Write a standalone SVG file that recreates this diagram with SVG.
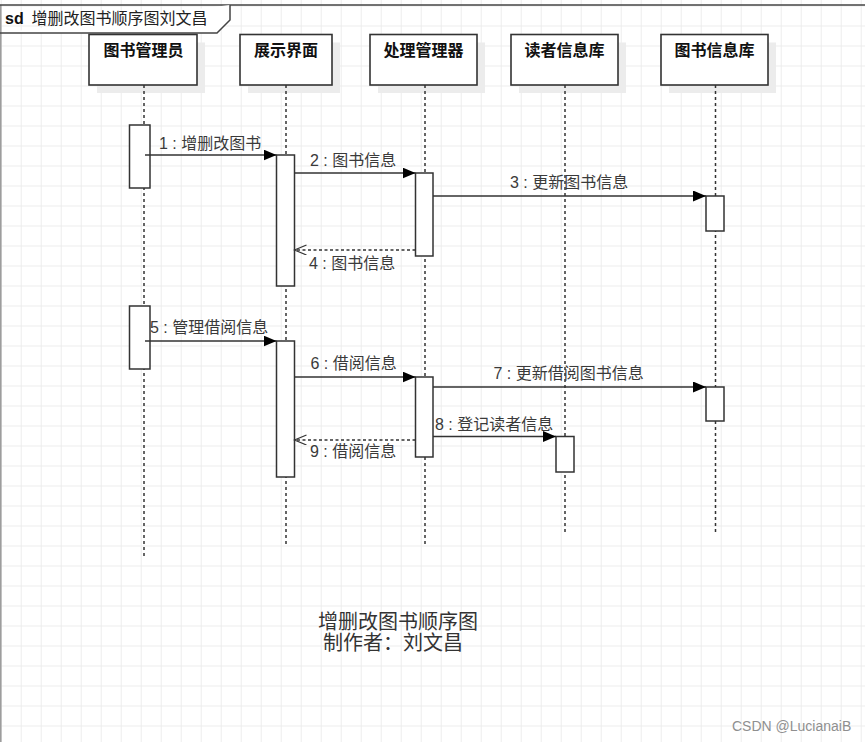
<svg xmlns="http://www.w3.org/2000/svg" width="865" height="742" viewBox="0 0 865 742">
<defs>
<pattern id="grid" patternUnits="userSpaceOnUse" x="0.7" y="5.5" width="20" height="20">
<path d="M0,0 H20 M0,0 V20" fill="none" stroke="#e9e9e9" stroke-width="1.6"/>
</pattern>
<marker id="fill" markerUnits="userSpaceOnUse" markerWidth="14" markerHeight="12" refX="13" refY="5.5" orient="auto">
<path d="M0,0 L13,5.5 L0,11 z" fill="#000"/>
</marker>
<marker id="open" markerUnits="userSpaceOnUse" markerWidth="14" markerHeight="12" refX="12" refY="5" orient="auto">
<path d="M0,0 L12,5 L0,10" fill="none" stroke="#333" stroke-width="1.2"/>
</marker>
</defs>
<style>
.head{fill:#fff;stroke:#333;stroke-width:1.6}
.shadow{fill:#ececec}
.name{font-family:"Liberation Sans","Noto Sans CJK SC",sans-serif;font-size:16px;font-weight:bold;fill:#111;text-anchor:middle}
.life{stroke:#333;stroke-width:1.5;stroke-dasharray:3 3;fill:none}
.act{fill:#fff;stroke:#333;stroke-width:1.5}
.msg{stroke:#333;stroke-width:1.4;fill:none;marker-end:url(#fill)}
.ret{stroke:#333;stroke-width:1.4;fill:none;stroke-dasharray:3 2.5;marker-end:url(#open)}
.lbl{font-family:"Liberation Sans","Noto Sans CJK SC",sans-serif;font-size:16px;fill:#3a3a3a}
.foot{font-family:"Liberation Sans","Noto Sans CJK SC",sans-serif;font-size:20px;fill:#333}
</style>
<rect x="0" y="0" width="865" height="742" fill="#fff"/>
<rect x="0" y="0" width="865" height="742" fill="url(#grid)"/>
<g id="frame">
<line x1="0.8" y1="5" x2="0.8" y2="742" stroke="#999" stroke-width="1.5"/>
<line x1="0" y1="5" x2="865" y2="5" stroke="#444" stroke-width="1.5"/>
<path d="M0,33 H217 L230,20 V5" fill="#fff" stroke="#444" stroke-width="1.5"/>
<text x="5" y="24" font-family="Liberation Sans,sans-serif" font-size="16" font-weight="bold" fill="#111">sd</text>
<text x="31.5" y="24" font-family="Liberation Sans,Noto Sans CJK SC,sans-serif" font-size="16" fill="#222">增删改图书顺序图刘文昌</text>
</g>
<g id="librarian">
<rect class="shadow" x="97" y="42.5" width="108" height="50.5"/>
<rect class="head" x="89" y="34.5" width="108" height="50.5"/>
<text class="name" x="143.5" y="56">图书管理员</text>
<line class="life" x1="144" y1="85" x2="144" y2="557"/>
<rect class="act" x="129.5" y="125" width="20.5" height="63"/>
<rect class="act" x="129.5" y="306" width="20.5" height="63"/>
</g>
<g id="ui">
<rect class="shadow" x="248" y="42.5" width="92" height="50.5"/>
<rect class="head" x="240" y="34.5" width="92" height="50.5"/>
<text class="name" x="286" y="56">展示界面</text>
<line class="life" x1="286" y1="85" x2="286" y2="547"/>
<rect class="act" x="276.5" y="155" width="18" height="131"/>
<rect class="act" x="276.5" y="341" width="18" height="136"/>
</g>
<g id="processor">
<rect class="shadow" x="378" y="42.5" width="107" height="50.5"/>
<rect class="head" x="370" y="34.5" width="107" height="50.5"/>
<text class="name" x="423.5" y="56">处理管理器</text>
<line class="life" x1="425" y1="85" x2="425" y2="547"/>
<rect class="act" x="415.5" y="173" width="17.5" height="83"/>
<rect class="act" x="415.5" y="377" width="17.5" height="80"/>
</g>
<g id="readerdb">
<rect class="shadow" x="519" y="42.5" width="107" height="50.5"/>
<rect class="head" x="511" y="34.5" width="107" height="50.5"/>
<text class="name" x="564.5" y="56">读者信息库</text>
<line class="life" x1="565" y1="85" x2="565" y2="534"/>
<rect class="act" x="556" y="436.5" width="18" height="35.5"/>
</g>
<g id="bookdb">
<rect class="shadow" x="669" y="42.5" width="107" height="50.5"/>
<rect class="head" x="661" y="34.5" width="107" height="50.5"/>
<text class="name" x="714.5" y="56">图书信息库</text>
<line class="life" x1="715.5" y1="85" x2="715.5" y2="534"/>
<rect class="act" x="706" y="196" width="18" height="35"/>
<rect class="act" x="706" y="387" width="18" height="34"/>
</g>
<g id="connectors">
<line class="msg" x1="145" y1="155" x2="276.5" y2="155"/>
<text class="lbl" x="159" y="149">1 : 增删改图书</text>
<line class="msg" x1="294.5" y1="173" x2="415.5" y2="173"/>
<text class="lbl" x="310" y="166">2 : 图书信息</text>
<line class="msg" x1="433" y1="196" x2="706" y2="196"/>
<text class="lbl" x="510" y="188">3 : 更新图书信息</text>
<line class="ret" x1="415.5" y1="250" x2="294.5" y2="250"/>
<text class="lbl" x="309" y="269">4 : 图书信息</text>
<line class="msg" x1="145" y1="341" x2="276.5" y2="341"/>
<text class="lbl" x="150" y="333">5 : 管理借阅信息</text>
<line class="msg" x1="294.5" y1="377" x2="415.5" y2="377"/>
<text class="lbl" x="310.5" y="369">6 : 借阅信息</text>
<line class="msg" x1="433" y1="387" x2="706" y2="387"/>
<text class="lbl" x="493.5" y="379">7 : 更新借阅图书信息</text>
<line class="msg" x1="433" y1="436.5" x2="556" y2="436.5"/>
<text class="lbl" x="435" y="430">8 : 登记读者信息</text>
<line class="ret" x1="415.5" y1="440" x2="294.5" y2="440"/>
<text class="lbl" x="310" y="457">9 : 借阅信息</text>
</g>
<g id="caption">
<text class="foot" x="318" y="629">增删改图书顺序图</text>
<text class="foot" x="323" y="650">制作者：刘文昌</text>
</g>
<text x="732" y="731" font-family="Liberation Sans,sans-serif" font-size="14" fill="#8f8f8f">CSDN @LucianaiB</text>
</svg>
